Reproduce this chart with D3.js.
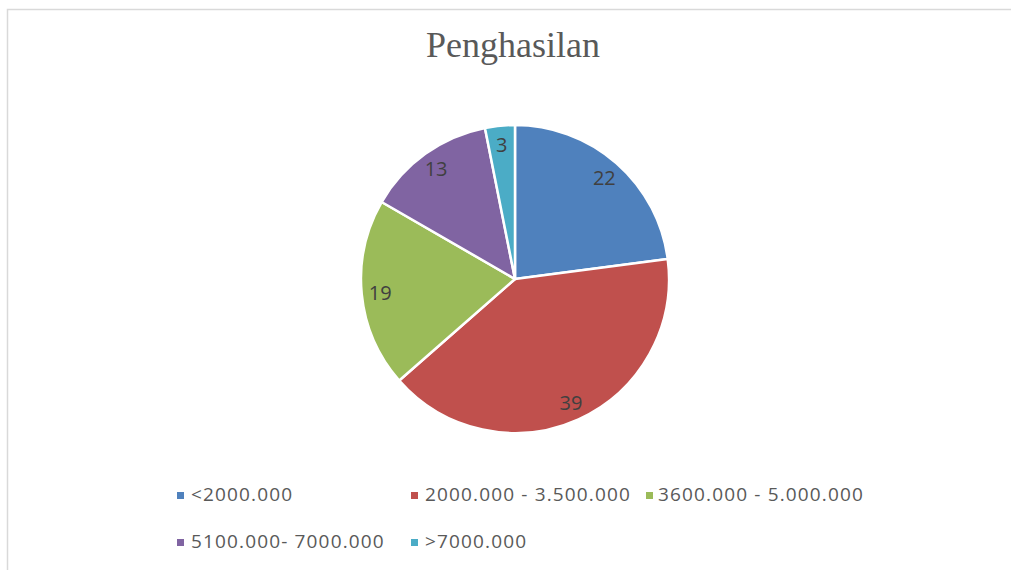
<!DOCTYPE html>
<html>
<head>
<meta charset="utf-8">
<script src="https://cdn.jsdelivr.net/npm/d3@7"></script>
<style>
  html, body { margin: 0; padding: 0; background: #ffffff; }
  svg { display: block; }
</style>
</head>
<body>
<svg id="chart" width="1011" height="570"></svg>
<script>
// Income groups and respondent counts
const categories = ["<2000.000", "2000.000 - 3.500.000", "3600.000 - 5.000.000", "5100.000- 7000.000", ">7000.000"];
const values = [22, 39, 19, 13, 3];
const colors = ["#4F81BD", "#C0504D", "#9BBB59", "#8064A2", "#4BACC6"];
const title = "Penghasilan";

const svg = d3.select("#chart");

// chart frame
svg.append("rect")
  .attr("x", 7.5).attr("y", 9.5)
  .attr("width", 1200).attr("height", 1000)
  .attr("fill", "none")
  .attr("stroke", "#d9d9d9")
  .attr("stroke-width", 1.5);

svg.append("text")
  .attr("x", 513).attr("y", 57)
  .attr("text-anchor", "middle")
  .attr("font-family", "'Liberation Serif', 'DejaVu Serif', serif")
  .attr("font-size", 36)
  .attr("fill", "#595959")
  .text(title);

const cx = 515, cy = 279, r = 154;
const data = categories.map((c, i) => ({ name: c, value: values[i], color: colors[i] }));

const pie = d3.pie().value(d => d.value).sort(null);
const arc = d3.arc().innerRadius(0).outerRadius(r);
const labelArc = d3.arc().innerRadius(r * 0.88).outerRadius(r * 0.88);

const g = svg.append("g").attr("transform", `translate(${cx},${cy})`);
const arcs = pie(data);

g.selectAll("path.slice")
  .data(arcs)
  .join("path")
  .attr("class", "slice")
  .attr("d", arc)
  .attr("fill", d => d.data.color)
  .attr("stroke", "#ffffff")
  .attr("stroke-width", 2.5)
  .attr("stroke-linejoin", "round");

g.selectAll("text.lbl")
  .data(arcs)
  .join("text")
  .attr("class", "lbl")
  .attr("transform", d => `translate(${labelArc.centroid(d)})`)
  .attr("text-anchor", "middle")
  .attr("dominant-baseline", "central")
  .attr("font-family", "'Open Sans', Lato, sans-serif")
  .attr("font-size", 20)
  .attr("fill", "#404040")
  .text(d => d.data.value);

// legend
const legendPos = [
  { x: 177, y: 494 }, { x: 411, y: 494 }, { x: 646, y: 494 },
  { x: 177, y: 541 }, { x: 411, y: 541 }
];
const lg = svg.append("g");
const items = lg.selectAll("g.item")
  .data(data)
  .join("g")
  .attr("class", "item")
  .attr("transform", (d, i) => `translate(${legendPos[i].x},${legendPos[i].y})`);

items.append("rect")
  .attr("x", 0).attr("y", -2)
  .attr("width", 7).attr("height", 7)
  .attr("fill", d => d.color);

items.append("text")
  .attr("x", (d, i) => i === 2 ? 12 : 14).attr("y", 0)
  .attr("dominant-baseline", "central")
  .attr("font-family", "'Open Sans', Lato, sans-serif")
  .attr("font-size", 19)
  .attr("letter-spacing", 1.15)
  .attr("fill", "#595959")
  .text(d => d.name);
</script>
</body>
</html>
